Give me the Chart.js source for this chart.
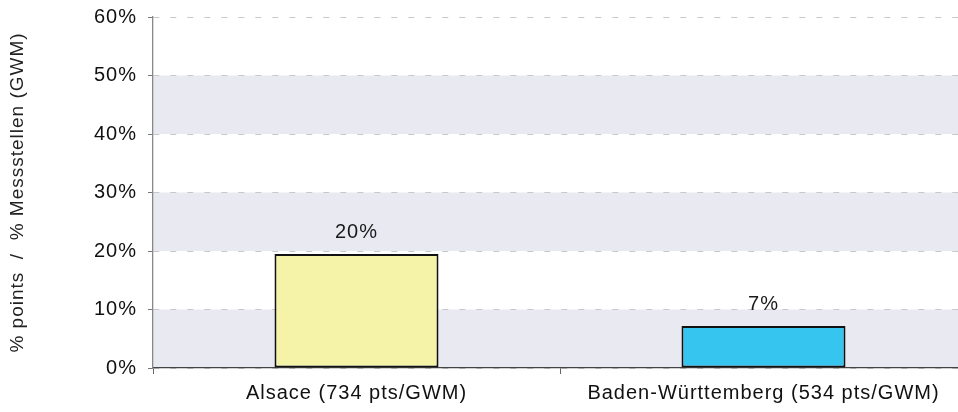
<!DOCTYPE html>
<html>
<head>
<meta charset="utf-8">
<script src="https://cdn.jsdelivr.net/npm/chart.js@4/dist/chart.umd.min.js"></script>
<style>
html,body{margin:0;padding:0;background:#fff;overflow:hidden;}
#wrap{width:968px;height:412px;position:relative;}
</style>
</head>
<body>
<div id="wrap"><canvas id="c"></canvas></div>
<script>
const categories = ['Alsace (734 pts/GWM)', 'Baden-Württemberg (534 pts/GWM)'];
const values = [19.5, 7.2];
const valueLabels = ['20%', '7%'];
const barColors = ['#F5F3A8', '#35C5EF'];
const yTicks = [0, 10, 20, 30, 40, 50, 60];
const yTitle = '% points  /  % Messstellen (GWM)';
const FONT = "'Liberation Sans', Arial, sans-serif";

const spacingPlugin = {
  id: 'spacing',
  beforeLayout(chart) { chart.ctx.letterSpacing = '1px'; },
  beforeDraw(chart) { chart.ctx.letterSpacing = '1px'; }
};

const bandsPlugin = {
  id: 'bands',
  beforeDraw(chart) {
    const {ctx, chartArea, scales} = chart;
    const y = scales.y;
    ctx.save();
    ctx.fillStyle = '#E9E9F2';
    for (let i = 0; i + 1 < yTicks.length; i += 2) {
      const top = y.getPixelForValue(yTicks[i + 1]);
      const bot = y.getPixelForValue(yTicks[i]);
      ctx.fillRect(chartArea.left, top, chartArea.right - chartArea.left, bot - top);
    }
    ctx.restore();
  }
};

const labelPlugin = {
  id: 'vlabels',
  afterDatasetsDraw(chart) {
    const {ctx} = chart;
    const meta = chart.getDatasetMeta(0);
    ctx.save();
    ctx.font = "20px " + FONT;
    ctx.fillStyle = '#1a1a1a';
    ctx.textAlign = 'center';
    ctx.textBaseline = 'alphabetic';
    meta.data.forEach((bar, i) => {
      ctx.fillText(valueLabels[i], bar.x, bar.y - 16);
    });
    ctx.restore();
  }
};

new Chart(document.getElementById('c'), {
  type: 'bar',
  data: {
    labels: categories,
    datasets: [{
      data: values,
      backgroundColor: barColors,
      borderColor: '#111111',
      borderWidth: 2,
      borderSkipped: false,
      categoryPercentage: 1.0,
      barPercentage: 0.403
    }]
  },
  options: {
    responsive: true,
    maintainAspectRatio: false,
    animation: false,
    devicePixelRatio: 1,
    layout: { padding: { top: 17, right: 1, bottom: 0, left: 0 } },
    plugins: { legend: { display: false }, tooltip: { enabled: false } },
    scales: {
      x: {
        offset: true,
        grid: {
          offset: true,
          drawOnChartArea: false,
          drawTicks: true,
          tickLength: 6,
          color: '#666666'
        },
        border: { display: true, color: '#444444', width: 1.3 },
        ticks: {
          font: { family: FONT, size: 20 },
          color: '#111111',
          padding: 7,
          maxRotation: 0,
          autoSkip: false
        }
      },
      y: {
        min: 0,
        max: 60,
        afterFit(scale) {
          scale.width = 153;
          scale.paddingTop = 0;
          scale.paddingBottom = 0;
        },
        afterBuildTicks(scale) { scale.ticks = yTicks.map(v => ({ value: v })); },
        grid: {
          color: '#c8c8c8',
          lineWidth: 1,
          drawTicks: true,
          tickLength: 5,
          tickColor: '#777777',
          tickBorderDash: [],
          tickWidth: 1
        },
        border: { display: true, color: '#888888', width: 1.3, dash: [6, 11] },
        ticks: {
          font: { family: FONT, size: 20 },
          color: '#111111',
          padding: 11,
          callback: (v) => v + '%'
        },
        title: {
          display: true,
          text: yTitle,
          font: { family: FONT, size: 19 },
          color: '#222222',
          padding: { top: 6, bottom: 0 }
        }
      }
    }
  },
  plugins: [spacingPlugin, bandsPlugin, labelPlugin]
});
</script>
</body>
</html>
